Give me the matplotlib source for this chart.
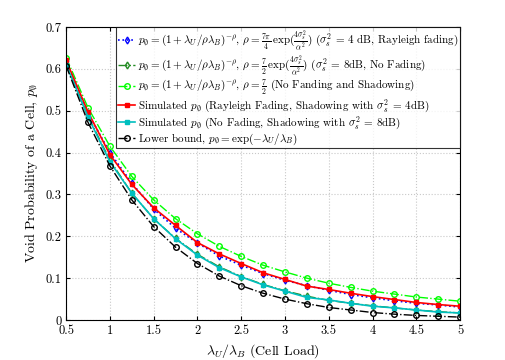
import matplotlib
matplotlib.use('Agg')
import matplotlib.pyplot as plt

plt.rcParams['font.family'] = 'serif'
plt.rcParams['font.serif'] = ['cmr10', 'DejaVu Serif']
plt.rcParams['mathtext.fontset'] = 'cm'
plt.rcParams['axes.formatter.use_mathtext'] = True

# cell load lambda_U / lambda_B
load = [0.5, 0.75, 1.0, 1.25, 1.5, 1.75, 2.0, 2.25, 2.5, 2.75,
        3.0, 3.25, 3.5, 3.75, 4.0, 4.25, 4.5, 4.75, 5.0]

# analytic, Rayleigh fading + 4 dB shadowing
ana_rayleigh = [0.618, 0.494, 0.400, 0.327, 0.265, 0.219, 0.184, 0.153, 0.131, 0.111,
                0.095, 0.082, 0.071, 0.061, 0.053, 0.046, 0.040, 0.036, 0.031]
# analytic, no fading, 8 dB shadowing
ana_shadow = [0.612, 0.487, 0.382, 0.303, 0.242, 0.195, 0.157, 0.127, 0.104, 0.085,
              0.070, 0.057, 0.047, 0.040, 0.034, 0.029, 0.024, 0.020, 0.017]
# analytic, no fading and no shadowing
ana_none = [0.627, 0.507, 0.415, 0.343, 0.287, 0.242, 0.206, 0.176, 0.152, 0.131,
            0.115, 0.100, 0.088, 0.078, 0.069, 0.062, 0.055, 0.050, 0.045]
# simulated, Rayleigh fading + 4 dB shadowing
sim_rayleigh = [0.620, 0.497, 0.395, 0.324, 0.268, 0.226, 0.185, 0.158, 0.135, 0.113,
                0.097, 0.081, 0.073, 0.064, 0.056, 0.049, 0.042, 0.037, 0.033]
# simulated, no fading, 8 dB shadowing
sim_shadow = [0.610, 0.485, 0.378, 0.303, 0.242, 0.194, 0.155, 0.125, 0.103, 0.084,
              0.069, 0.054, 0.048, 0.040, 0.033, 0.029, 0.024, 0.019, 0.017]
# lower bound exp(-load)
lower = [0.607, 0.472, 0.368, 0.287, 0.223, 0.174, 0.135, 0.105, 0.082, 0.064,
         0.050, 0.039, 0.030, 0.024, 0.018, 0.014, 0.011, 0.009, 0.007]

labels = [
    r'$p_\emptyset=(1+\lambda_U/\rho\lambda_B)^{-\rho}$, $\rho=\frac{7\pi}{4}\,\exp(\frac{4\sigma_s^2}{\alpha^2})$ ($\sigma_s^2$ = 4 dB, Rayleigh fading)',
    r'$p_\emptyset=(1+\lambda_U/\rho\lambda_B)^{-\rho}$, $\rho=\frac{7}{2}\,\exp(\frac{4\sigma_s^2}{\alpha^2})$ ($\sigma_s^2$ = 8dB, No Fading)',
    r'$p_\emptyset=(1+\lambda_U/\rho\lambda_B)^{-\rho}$, $\rho=\frac{7}{2}$ (No Fanding and Shadowing)',
    r'Simulated $p_\emptyset$ (Rayleigh Fading, Shadowing with $\sigma_s^2$ = 4dB)',
    r'Simulated $p_\emptyset$ (No Fading, Shadowing with $\sigma_s^2$ = 8dB)',
    r'Lower bound, $p_\emptyset=\exp(-\lambda_U/\lambda_B)$',
]

fig = plt.figure(figsize=(5.05, 3.6), dpi=100)
ax = fig.add_axes([0.131, 0.111, 0.780, 0.814])

ax.plot(load, ana_rayleigh, ':', color='blue', marker='d', ms=3.5, mfc='none', lw=1.2, label=labels[0])
ax.plot(load, ana_shadow, '-.', color='#228B22', marker='d', ms=3.5, mfc='none', lw=1.0, label=labels[1])
ax.plot(load, ana_none, '-.', color='#00FF00', marker='o', ms=4, mfc='none', lw=1.0, label=labels[2])
ax.plot(load, sim_rayleigh, '-', color='red', marker='s', ms=3, lw=1.2, label=labels[3])
ax.plot(load, sim_shadow, '-', color='#00BFBF', marker='s', ms=3, lw=1.2, label=labels[4])
ax.plot(load, lower, '-.', color='black', marker='o', ms=4, mfc='none', lw=1.0, label=labels[5])

ax.set_xlim(0.5, 5)
ax.set_ylim(0, 0.7)
ax.set_xticks([0.5, 1, 1.5, 2, 2.5, 3, 3.5, 4, 4.5, 5])
ax.set_xticklabels(['0.5', '1', '1.5', '2', '2.5', '3', '3.5', '4', '4.5', '5'])
ax.set_yticks([0, 0.1, 0.2, 0.3, 0.4, 0.5, 0.6, 0.7])
ax.set_yticklabels(['0', '0.1', '0.2', '0.3', '0.4', '0.5', '0.6', '0.7'])
ax.tick_params(direction='in', top=True, right=True, labelsize=9, length=3)
ax.grid(True, linestyle=':', color='#c8c8c8', lw=0.8)
for s in ax.spines.values():
    s.set_linewidth(0.8)

ax.set_xlabel(r'$\lambda_U/\lambda_B$ (Cell Load)', fontsize=10)
ax.set_ylabel(r'Void Probability of a Cell, $p_\emptyset$', fontsize=10)

leg = ax.legend(loc='upper right', fontsize=8, frameon=True, fancybox=False,
                edgecolor='black', handlelength=1.6, handletextpad=0.2,
                borderaxespad=0.0, borderpad=0.15, labelspacing=0.0)
leg.get_frame().set_linewidth(0.8)

fig.savefig('out.png', dpi=100)
